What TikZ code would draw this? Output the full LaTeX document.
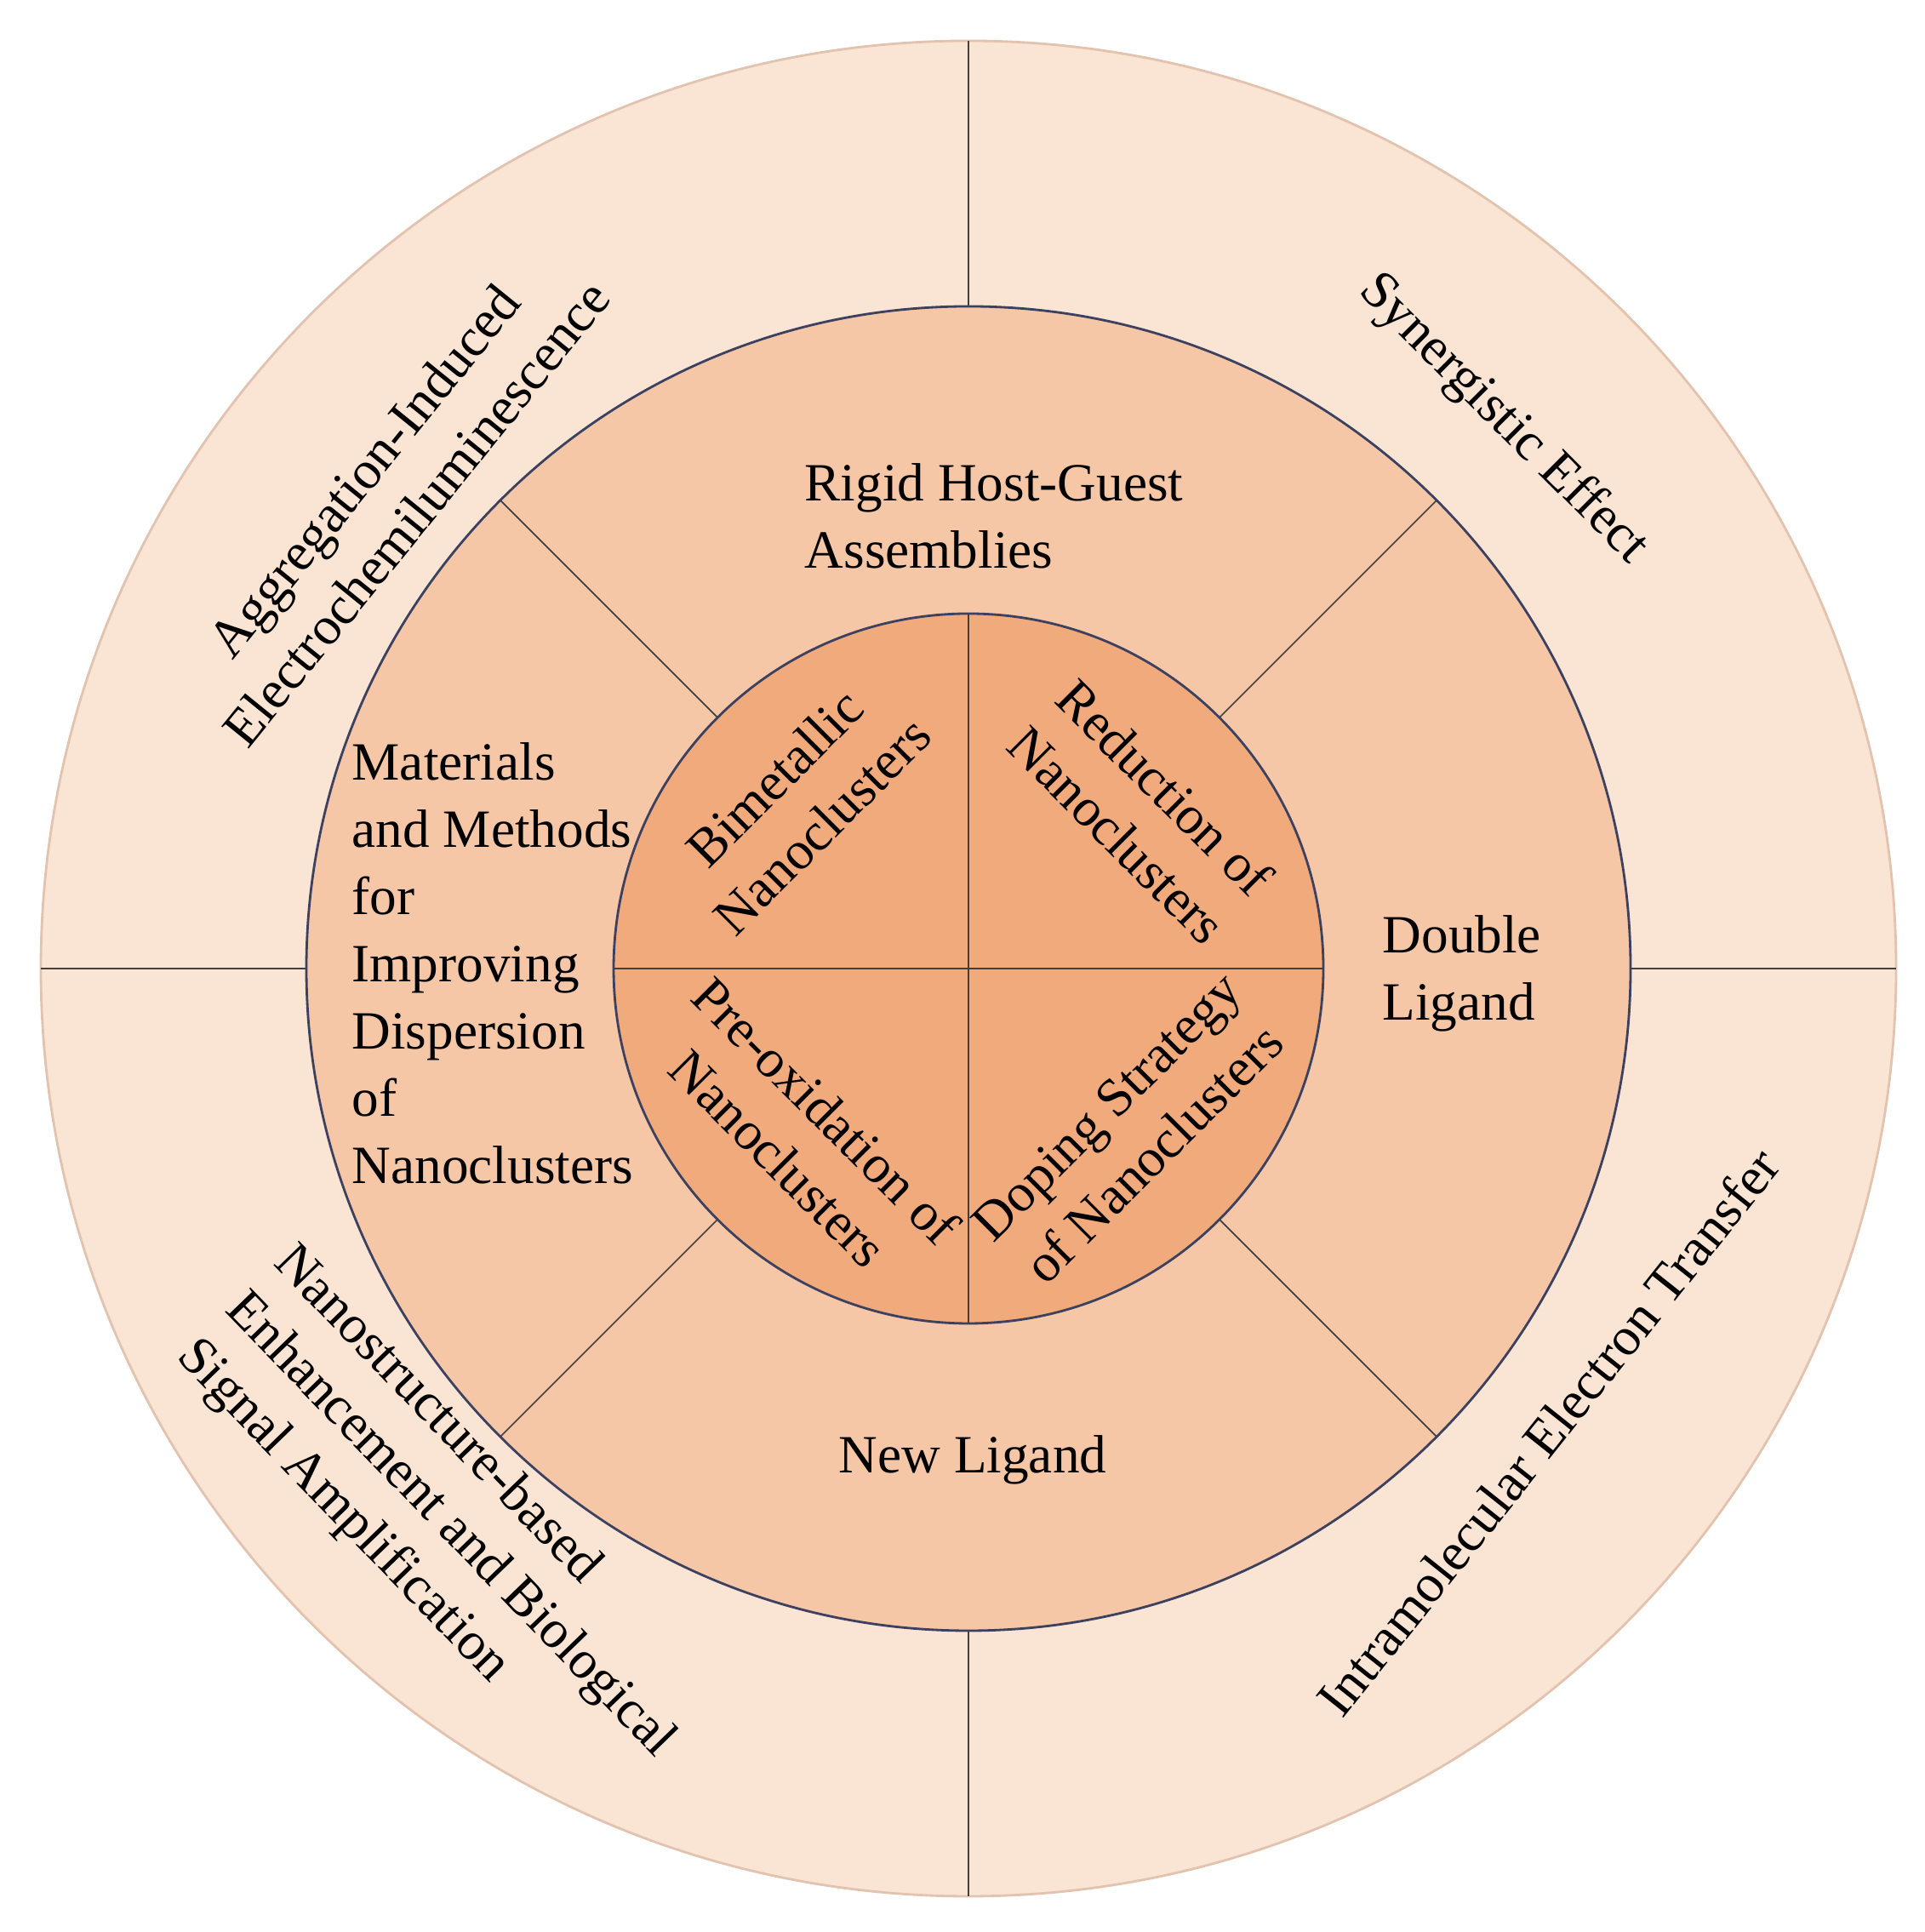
\documentclass[tikz,border=0pt]{standalone}
\usepackage{fontspec}
\setmainfont{Liberation Serif}
\usetikzlibrary{calc}
\begin{document}
\begin{tikzpicture}[
  lbl/.style={font=\fontsize{18}{22.5}\selectfont, inner sep=0pt},
  sep/.style={draw=black!75, line width=0.5pt}]
\useasboundingbox (0,0) rectangle (22.61,22.70);
\coordinate (c) at (11.38,11.32);
\fill[fill={rgb,255:red,250;green,228;blue,212}] (c) circle (10.9);
\draw[draw={rgb,255:red,225;green,195;blue,175}, line width=0.8pt] (c) circle (10.9);
\draw[sep] ($(c)+(0,7.78)$) -- ($(c)+(0,10.9)$);
\draw[sep] ($(c)+(0,-7.78)$) -- ($(c)+(0,-10.9)$);
\draw[sep] ($(c)+(7.78,0)$) -- ($(c)+(10.9,0)$);
\draw[sep] ($(c)+(-7.78,0)$) -- ($(c)+(-10.9,0)$);
\filldraw[fill={rgb,255:red,245;green,199;blue,167}, draw={rgb,255:red,60;green,65;blue,95}, line width=0.8pt] (c) circle (7.78);
\foreach \a in {45,135,225,315}
  \draw[sep] ($(c)+(\a:4.17)$) -- ($(c)+(\a:7.78)$);
\filldraw[fill={rgb,255:red,240;green,170;blue,124}, draw={rgb,255:red,60;green,65;blue,95}, line width=0.8pt] (c) circle (4.17);
\draw[sep] ($(c)+(0,4.17)$) -- ($(c)+(0,-4.17)$);
\draw[sep] ($(c)+(4.17,0)$) -- ($(c)+(-4.17,0)$);
% middle ring
\node[lbl, align=left, anchor=west] (rh) at ($(c)+(-1.93,5.32)$) {Rigid Host-Guest\\Assemblies};
\node[lbl, align=left, anchor=west] (mm) at ($(c)+(-7.25,0.06)$) {Materials\\and Methods\\for\\Improving\\Dispersion\\of\\Nanoclusters};
\node[lbl, align=left, anchor=west] (dl) at ($(c)+(4.86,-0.06)$) {Double\\Ligand};
\node[lbl] (nl) at ($(c)+(0.05,-5.77)$) {New Ligand};
% inner
\node[lbl, align=center, rotate=45] (bm) at ($(c)+(-2.0,1.96)$) {Bimetallic\\Nanoclusters};
\node[lbl, align=center, rotate=-45] (rd) at ($(c)+(2.03,1.85)$) {Reduction of\\Nanoclusters};
\node[lbl, align=center, rotate=-45] (po) at ($(c)+(-1.95,-1.95)$) {Pre-oxidation of\\Nanoclusters};
\node[lbl, align=center, rotate=45] (dp) at ($(c)+(1.9,-1.9)$) {Doping Strategy\\of Nanoclusters};
% outer
\node[lbl, align=center, rotate=51] (ag) at ($(c)+(-6.8,5.6)$) {Aggregation-Induced\\Electrochemiluminescence};
\node[lbl, rotate=-45] (se) at ($(c)+(6.28,6.45)$) {Synergistic Effect};
\node[lbl, rotate=51.5] (ie) at ($(c)+(6.81,-5.44)$) {Intramolecular Electron Transfer};
\node[lbl, align=left, rotate=-46] (ns) at ($(c)+(-6.1,-6.55)$) {Nanostructure-based\\Enhancement and Biological\\Signal Amplification};
\end{tikzpicture}
\end{document}
